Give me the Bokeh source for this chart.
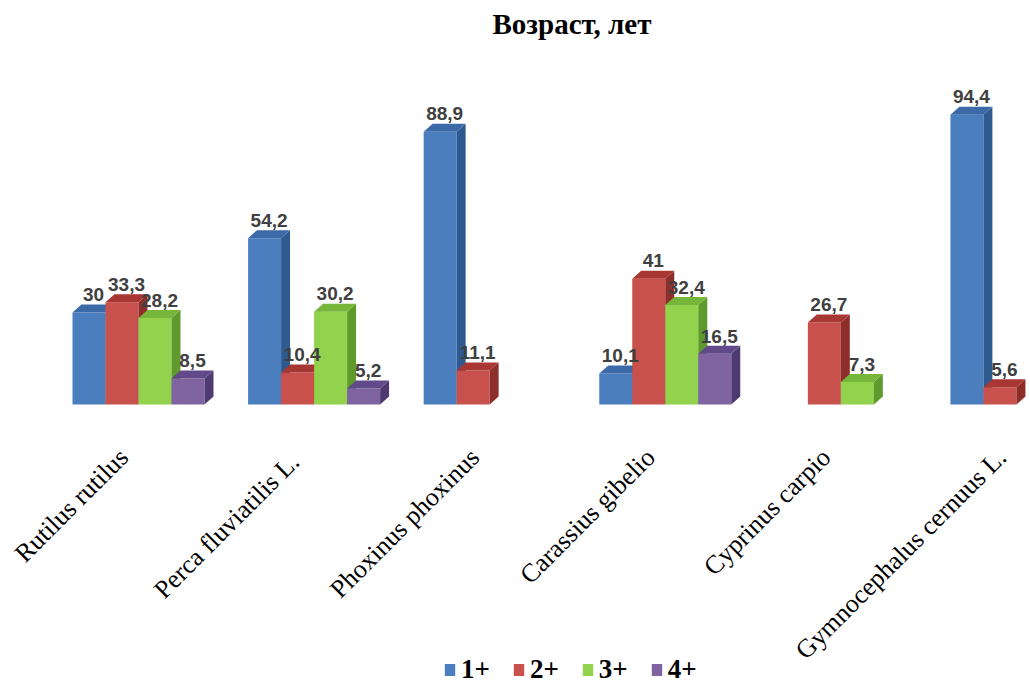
from math import pi
from bokeh.plotting import figure
from bokeh.models import Legend, LegendItem, Range1d
from bokeh.core.properties import value
from bokeh.embed import file_html
from bokeh.resources import INLINE

# ---- data ----
title_text = "Возраст, лет"
categories = ["Rutilus rutilus", "Perca  fluviatilis L.", "Phoxinus phoxinus",
              "Carassius gibelio", "Cyprinus carpio", "Gymnocephalus cernuus L."]
series_names = ["1+", "2+", "3+", "4+"]
vals_1 = [30, 54.2, 88.9, 10.1, None, 94.4]
vals_2 = [33.3, 10.4, 11.1, 41, 26.7, 5.6]
vals_3 = [28.2, 30.2, None, 32.4, 7.3, None]
vals_4 = [8.5, 5.2, None, 16.5, None, None]
series_vals = [vals_1, vals_2, vals_3, vals_4]

# ---- styles ----
front_colors = ["#4a7ebf", "#c8504d", "#93d24d", "#8064a2"]
side_colors = ["#2f5a8f", "#8e2e2b", "#5f9a2c", "#4d3a70"]
top_colors = ["#3c69a8", "#a83633", "#76b63b", "#62498a"]

W = 0.188      # slot width (group units)
DX = 0.051     # depth offset x (group units)
DY = 2.6       # depth offset y (value units)

p = figure(width=1030, height=686,
           x_range=Range1d(-0.786, 5.080), y_range=Range1d(-91.9, 117.3),
           x_axis_type=None, y_axis_type=None,
           output_backend="svg", toolbar_location=None, min_border=0,
           title=title_text)
p.grid.visible = False
p.outline_line_color = None
p.background_fill_color = "white"
p.border_fill_color = "white"
p.title.text_font = "Liberation Serif"
p.title.text_font_style = "bold"
p.title.text_font_size = "29px"
p.title.align = "left"
p.title.offset = 492
p.title.text_color = "black"

legend_items = []
for k, vals in enumerate(series_vals):
    left, right, top = [], [], []
    side_x, side_y, top_x, top_y = [], [], [], []
    for g, v in enumerate(vals):
        if v is None:
            continue
        l = g - 2 * W + k * W
        r = l + W
        left.append(l); right.append(r); top.append(v)
        side_x.append([r, r + DX, r + DX, r])
        side_y.append([0, DY, v + DY, v])
        top_x.append([l, l + DX, r + DX, r])
        top_y.append([v, v + DY, v + DY, v])
    fr = p.quad(left=left, right=right, bottom=0, top=top,
                fill_color=front_colors[k], line_color=None)
    p.patches(xs=side_x, ys=side_y, fill_color=side_colors[k], line_color=None)
    p.patches(xs=top_x, ys=top_y, fill_color=top_colors[k], line_color=None)
    legend_items.append(LegendItem(label=series_names[k], renderers=[fr]))

# value labels
for k, vals in enumerate(series_vals):
    xs, ys, txt = [], [], []
    for g, v in enumerate(vals):
        if v is None:
            continue
        left = g - 2 * W + k * W
        xs.append(left + W / 2 + DX / 2)
        ys.append(v + 5.8)
        txt.append(f"{v:g}".replace(".", ","))
    p.text(x=xs, y=ys, text=txt, text_align="center", text_baseline="alphabetic",
           text_font=value("Liberation Sans"), text_font_style="bold",
           text_font_size="19px", text_color="#404040")

# category labels
p.text(x=[g - 0.142 for g in range(len(categories))], y=[-12.5] * len(categories),
       text=categories, angle=pi / 4, text_align="right", text_baseline="top",
       text_font=value("Liberation Serif"), text_font_size="26px", text_color="black")

legend = Legend(items=legend_items, orientation="horizontal", location=(443, 1),
                glyph_width=13, glyph_height=15, label_standoff=5, spacing=22,
                padding=0, margin=0, border_line_color=None, background_fill_alpha=0,
                label_text_font="Liberation Serif", label_text_font_style="bold",
                label_text_font_size="27px", label_text_color="black")
p.add_layout(legend)

open("out.html", "w").write(file_html(p, INLINE))
